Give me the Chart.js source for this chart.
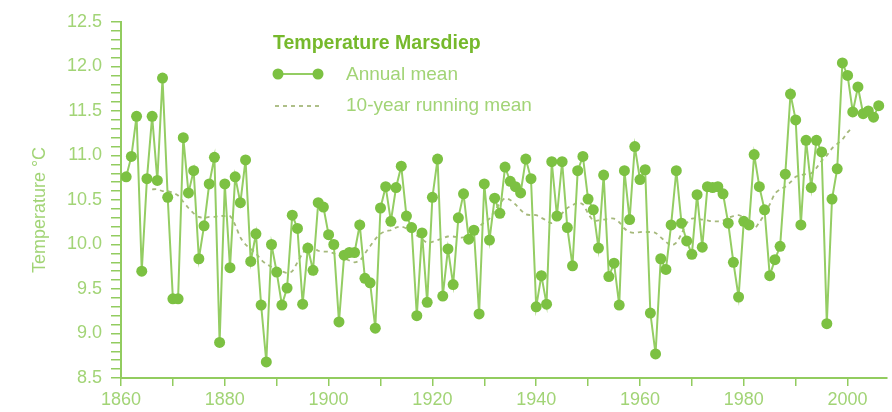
<!DOCTYPE html>
<html>
<head>
<meta charset="utf-8">
<title>Temperature Marsdiep</title>
<script src="https://cdn.jsdelivr.net/npm/chart.js@4.4.0/dist/chart.umd.min.js"></script>
<style>
  html, body { margin: 0; padding: 0; background: #ffffff; }
  #cadre { position: relative; width: 892px; height: 412px; }
</style>
</head>
<body>
<div id="cadre"><canvas id="graphiqueMarsdiep"></canvas></div>
<script>
// ==========================================================================
//   Température de l'eau au Marsdiep — moyenne annuelle et moyenne glissante
// ==========================================================================

const titreLegende = "Temperature Marsdiep";
const labelAnnuel  = "Annual mean";
const labelGlissant = "10-year running mean";
const titreAxeY    = "Temperature \u00b0C";

// Moyenne annuelle (°C), une valeur par an
const anneesAnnuelles = [
    1861, 1862, 1863, 1864, 1865, 1866, 1867, 1868, 1869, 1870,
    1871, 1872, 1873, 1874, 1875, 1876, 1877, 1878, 1879, 1880,
    1881, 1882, 1883, 1884, 1885, 1886, 1887, 1888, 1889, 1890,
    1891, 1892, 1893, 1894, 1895, 1896, 1897, 1898, 1899, 1900,
    1901, 1902, 1903, 1904, 1905, 1906, 1907, 1908, 1909, 1910,
    1911, 1912, 1913, 1914, 1915, 1916, 1917, 1918, 1919, 1920,
    1921, 1922, 1923, 1924, 1925, 1926, 1927, 1928, 1929, 1930,
    1931, 1932, 1933, 1934, 1935, 1936, 1937, 1938, 1939, 1940,
    1941, 1942, 1943, 1944, 1945, 1946, 1947, 1948, 1949, 1950,
    1951, 1952, 1953, 1954, 1955, 1956, 1957, 1958, 1959, 1960,
    1961, 1962, 1963, 1964, 1965, 1966, 1967, 1968, 1969, 1970,
    1971, 1972, 1973, 1974, 1975, 1976, 1977, 1978, 1979, 1980,
    1981, 1982, 1983, 1984, 1985, 1986, 1987, 1988, 1989, 1990,
    1991, 1992, 1993, 1994, 1995, 1996, 1997, 1998, 1999, 2000,
    2001, 2002, 2003, 2004, 2005, 2006
];
const moyenneAnnuelle = [
    10.76, 10.99, 11.44,  9.70, 10.74, 11.44, 10.72, 11.87, 10.53,  9.39,
     9.39, 11.20, 10.58, 10.83,  9.84, 10.21, 10.68, 10.98,  8.90, 10.68,
     9.74, 10.76, 10.47, 10.95,  9.81, 10.12,  9.32,  8.68, 10.00,  9.69,
     9.32,  9.51, 10.33, 10.18,  9.33,  9.96,  9.71, 10.47, 10.42, 10.11,
    10.00,  9.13,  9.88,  9.91,  9.91, 10.22,  9.62,  9.57,  9.06, 10.41,
    10.65, 10.26, 10.64, 10.88, 10.32, 10.19,  9.20, 10.13,  9.35, 10.53,
    10.96,  9.42,  9.95,  9.55, 10.30, 10.57, 10.06, 10.16,  9.22, 10.68,
    10.05, 10.52, 10.35, 10.87, 10.71, 10.65, 10.58, 10.96, 10.74,  9.30,
     9.65,  9.33, 10.93, 10.32, 10.93, 10.19,  9.76, 10.83, 10.99, 10.51,
    10.39,  9.96, 10.78,  9.64,  9.79,  9.32, 10.83, 10.28, 11.10, 10.73,
    10.84,  9.23,  8.77,  9.84,  9.72, 10.22, 10.83, 10.24, 10.04,  9.89,
    10.56,  9.97, 10.65, 10.64, 10.65, 10.57, 10.24,  9.80,  9.41, 10.26,
    10.22, 11.01, 10.65, 10.39,  9.65,  9.83,  9.98, 10.79, 11.69, 11.40,
    10.22, 11.17, 10.64, 11.17, 11.04,  9.11, 10.51, 10.85, 12.04, 11.90,
    11.49, 11.77, 11.47, 11.50, 11.43, 11.56
];

// Moyenne glissante sur 10 ans (°C)
const anneesGlissantes = [
    1866, 1867, 1868, 1869, 1870,
    1871, 1872, 1873, 1874, 1875, 1876, 1877, 1878, 1879, 1880,
    1881, 1882, 1883, 1884, 1885, 1886, 1887, 1888, 1889, 1890,
    1891, 1892, 1893, 1894, 1895, 1896, 1897, 1898, 1899, 1900,
    1901, 1902, 1903, 1904, 1905, 1906, 1907, 1908, 1909, 1910,
    1911, 1912, 1913, 1914, 1915, 1916, 1917, 1918, 1919, 1920,
    1921, 1922, 1923, 1924, 1925, 1926, 1927, 1928, 1929, 1930,
    1931, 1932, 1933, 1934, 1935, 1936, 1937, 1938, 1939, 1940,
    1941, 1942, 1943, 1944, 1945, 1946, 1947, 1948, 1949, 1950,
    1951, 1952, 1953, 1954, 1955, 1956, 1957, 1958, 1959, 1960,
    1961, 1962, 1963, 1964, 1965, 1966, 1967, 1968, 1969, 1970,
    1971, 1972, 1973, 1974, 1975, 1976, 1977, 1978, 1979, 1980,
    1981, 1982, 1983, 1984, 1985, 1986, 1987, 1988, 1989, 1990,
    1991, 1992, 1993, 1994, 1995, 1996, 1997, 1998, 1999, 2000,
    2001
];
const moyenneGlissante = [
    10.62, 10.62, 10.60, 10.60, 10.58,
    10.55, 10.48, 10.41, 10.35, 10.31, 10.30, 10.31, 10.31, 10.32, 10.32,
    10.32, 10.22, 10.08, 10.00,  9.95,  9.90,  9.83,  9.78,  9.75,  9.72,
     9.70,  9.68,  9.70,  9.80,  9.90,  9.97,  9.97,  9.93,  9.92,  9.92,
     9.90,  9.88,  9.85,  9.82,  9.80,  9.82,  9.90,  9.98, 10.06, 10.12,
    10.15, 10.16, 10.19, 10.20, 10.18, 10.14, 10.10, 10.06, 10.02, 10.03,
    10.05, 10.07, 10.09, 10.09, 10.08, 10.08, 10.10, 10.14, 10.20, 10.25,
    10.29, 10.38, 10.46, 10.52, 10.50, 10.45, 10.39, 10.34, 10.33, 10.33,
    10.30, 10.27, 10.24, 10.28, 10.35, 10.41, 10.44, 10.47, 10.45, 10.35,
    10.27, 10.27, 10.28, 10.29, 10.29, 10.25, 10.18, 10.14, 10.13, 10.14,
    10.14, 10.14, 10.13, 10.08, 10.03,  9.99, 10.02, 10.12, 10.24, 10.29,
    10.29, 10.28, 10.27, 10.26, 10.26, 10.27, 10.30, 10.32, 10.33, 10.30,
    10.24, 10.18, 10.25, 10.34, 10.45, 10.57, 10.62, 10.65, 10.70, 10.76,
    10.78, 10.79, 10.80, 10.86, 10.94, 11.00, 11.08, 11.13, 11.18, 11.26,
    11.32
];

// Couleurs
const vertPoint  = '#7cc142';
const vertLigne  = '#94cd63';
const vertAxe    = '#92cc5f';
const vertTexte  = '#a2d476';
const vertTitre  = '#76b92c';
const vertTirets = '#a6b97c';
const police     = '"Liberation Sans", Arial, Helvetica, sans-serif';

const pointsAnnuels   = anneesAnnuelles.map((a, i) => ({ x: a, y: moyenneAnnuelle[i] }));
const pointsGlissants = anneesGlissantes.map((a, i) => ({ x: a, y: moyenneGlissante[i] }));

// Légende dans la zone du graphique (en haut à gauche) + titre vertical de l'axe Y
const legendeMarsdiep = {
    id: 'legendeMarsdiep',
    afterDatasetsDraw(chart) {
        const c = chart.ctx;
        c.save();
        c.textBaseline = 'middle';
        c.textAlign = 'left';

        c.font = 'bold 19.5px ' + police;
        c.fillStyle = vertTitre;
        c.fillText(titreLegende, 273, 44);

        // ligne avec points
        c.strokeStyle = vertLigne;
        c.lineWidth = 2;
        c.beginPath();
        c.moveTo(278, 74);
        c.lineTo(318, 74);
        c.stroke();
        c.fillStyle = vertPoint;
        [278, 318].forEach(x => {
            c.beginPath();
            c.arc(x, 74, 5.5, 0, Math.PI * 2);
            c.fill();
        });

        // tirets
        c.strokeStyle = vertTirets;
        c.lineWidth = 1.8;
        c.setLineDash([4, 4]);
        c.beginPath();
        c.moveTo(275, 106);
        c.lineTo(321, 106);
        c.stroke();
        c.setLineDash([]);

        c.font = '19px ' + police;
        c.fillStyle = vertTexte;
        c.fillText(labelAnnuel, 346, 75);
        c.fillText(labelGlissant, 346, 106);

        // titre de l'axe Y, tourné de 90°
        c.translate(40, 210);
        c.rotate(-Math.PI / 2);
        c.textAlign = 'center';
        c.font = '18px ' + police;
        c.fillText(titreAxeY, 0, 0);
        c.restore();
    }
};

const ctx = document.getElementById('graphiqueMarsdiep');

const monGraphique = new Chart(ctx, {
    type: 'line',
    data: {
        datasets: [{
            label: labelAnnuel,
            data: pointsAnnuels,
            borderColor: vertLigne,
            borderWidth: 2,
            pointRadius: 5.5,
            pointBackgroundColor: vertPoint,
            pointBorderWidth: 0,
            tension: 0
        }, {
            label: labelGlissant,
            data: pointsGlissants,
            borderColor: vertTirets,
            borderWidth: 1.8,
            borderDash: [4, 4],
            pointRadius: 0,
            tension: 0.3
        }]
    },
    options: {
        responsive: true,
        maintainAspectRatio: false,
        animation: false,
        layout: { padding: { top: 22, right: 2, bottom: 0, left: 0 } },
        plugins: {
            legend: { display: false },
            tooltip: { enabled: false }
        },
        scales: {
            x: {
                type: 'linear',
                min: 1860,
                max: 2007.5,
                afterFit(scale) { scale.height = 34; },
                border: { color: vertAxe, width: 2 },
                grid: { drawOnChartArea: false, drawTicks: true, tickLength: 8, color: vertAxe, lineWidth: 1.5 },
                ticks: {
                    stepSize: 10,
                    includeBounds: false,
                    autoSkip: false,
                    maxRotation: 0,
                    padding: 3,
                    color: vertTexte,
                    font: { family: police, size: 18 },
                    callback: v => (v % 20 === 0 ? String(v) : '')
                }
            },
            y: {
                min: 8.5,
                max: 12.5,
                afterFit(scale) { scale.width = 121; },
                border: { color: vertAxe, width: 2 },
                grid: { drawOnChartArea: false, drawTicks: true, tickLength: 10, color: vertAxe, lineWidth: 1.5 },
                ticks: {
                    stepSize: 0.1,
                    maxTicksLimit: 100,
                    autoSkip: false,
                    padding: 9,
                    color: vertTexte,
                    font: { family: police, size: 18 },
                    callback: v => (Math.round(v * 10) % 5 === 0 ? v.toFixed(1) : '')
                }
            }
        }
    },
    plugins: [legendeMarsdiep]
});
</script>
</body>
</html>
